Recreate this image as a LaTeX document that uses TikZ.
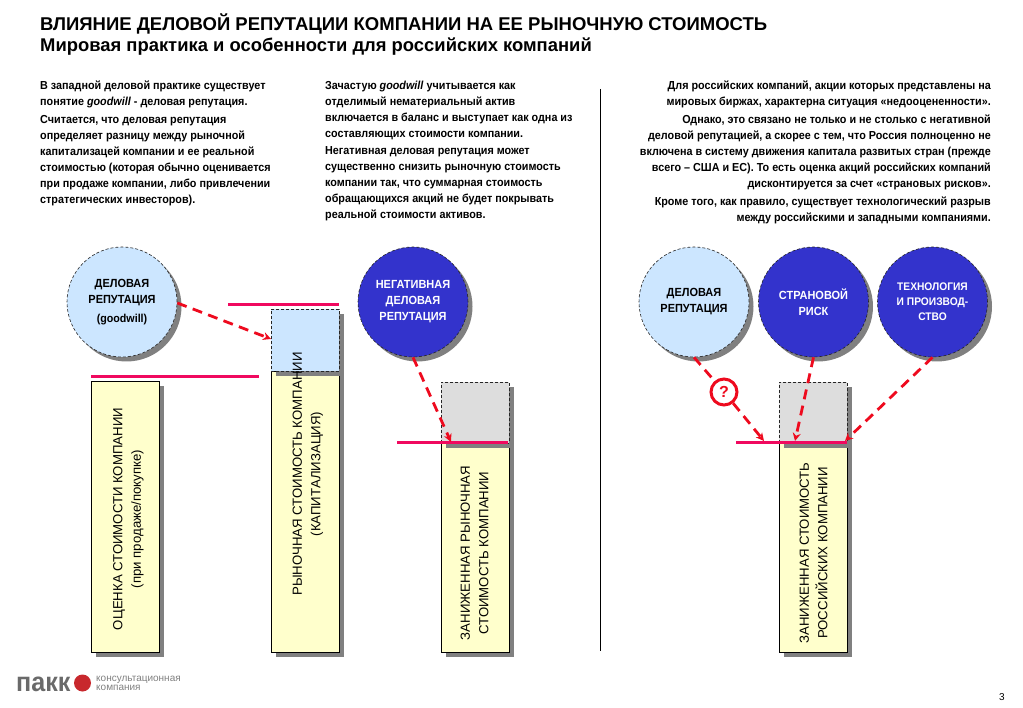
\documentclass[tikz,border=0pt]{standalone}
\usepackage{fontspec}
\setmainfont{Liberation Sans}
\newfontfamily\narrowfont[FakeStretch=0.93]{Liberation Sans}
\usepackage{xcolor}
\usetikzlibrary{arrows.meta, positioning, shadows}
\definecolor{paleblue}{HTML}{CCE6FF}
\definecolor{deepblue}{HTML}{3333CC}
\definecolor{paleyellow}{HTML}{FFFFCC}
\definecolor{palegray}{HTML}{DDDDDD}
\definecolor{barpink}{HTML}{F0095F}
\definecolor{logogray}{HTML}{6A6A6A}
\definecolor{logored}{HTML}{C8282D}
\definecolor{arrowred}{HTML}{EE0A1E}
\tikzset{
  shade3/.style={drop shadow={shadow xshift=4.5pt, shadow yshift=-4.5pt, fill=gray, opacity=1}},
  para/.style={inner sep=0pt, font=\narrowfont\fontsize{11.6}{16}\selectfont\bfseries},
  ball/.style={circle, draw=black!85, densely dashed, line width=0.6pt, minimum size=110pt, inner sep=0pt, shade3, align=center, font=\narrowfont\fontsize{11.8}{16}\selectfont\bfseries, execute at begin node=\rule{0pt}{12pt}},
  barbox/.style={rectangle, draw=black, line width=0.7pt, fill=paleyellow, minimum width=68pt, inner sep=0pt, anchor=north west, shade3},
  topbox/.style={rectangle, draw=black!85, densely dashed, line width=0.6pt, minimum width=68pt, inner sep=0pt, anchor=north west, shade3},
  bartext/.style={rotate=90, align=center, inner sep=0pt, font=\fontsize{13.2}{18.5}\selectfont},
  level/.style={draw=barpink, line width=3pt},
  redarrow/.style={draw=arrowred, line width=2.8pt, dash pattern=on 10pt off 6.5pt, -{Stealth[length=8pt,width=8pt]}},
  redline/.style={draw=arrowred, line width=2.8pt, dash pattern=on 10pt off 6.5pt}
}
\begin{document}
\begin{tikzpicture}[x=1pt, y=-1pt]
  \useasboundingbox (0,0) rectangle (1023,708);

  % heading
  \node[anchor=west, inner sep=0pt, font=\fontsize{18.5}{20}\selectfont\bfseries] (title) at (40,24) {ВЛИЯНИЕ ДЕЛОВОЙ РЕПУТАЦИИ КОМПАНИИ НА ЕЕ РЫНОЧНУЮ СТОИМОСТЬ};
  \node[anchor=west, inner sep=0pt, font=\fontsize{18.4}{20}\selectfont\bfseries] (subtitle) at (40,47) {Мировая практика и особенности для российских компаний};

  % three text columns
  \node[para, anchor=north west, align=left] (leftcol) at (40,81) {В западной деловой практике существует\\понятие \textit{goodwill} - деловая репутация.\\[2pt]Считается, что деловая репутация\\определяет разницу между рыночной\\капитализацей компании и ее реальной\\стоимостью (которая обычно оценивается\\при продаже компании, либо привлечении\\стратегических инвесторов).};
  \node[para, anchor=north west, align=left] (midcol) at (325,81) {Зачастую \textit{goodwill} учитывается как\\отделимый нематериальный актив\\включается в баланс и выступает как одна из\\составляющих стоимости компании.\\[1pt]Негативная деловая репутация может\\существенно снизить рыночную стоимость\\компании так, что суммарная стоимость\\обращающихся акций не будет покрывать\\реальной стоимости активов.};
  \node[para, anchor=north east, align=right] (rightcol) at (991,81) {Для российских компаний, акции которых представлены на\\мировых биржах, характерна ситуация «недооцененности».\\[2pt]Однако, это связано не только и не столько с негативной\\деловой репутацией, а скорее с тем, что Россия полноценно не\\включена в систему движения капитала развитых стран (прежде\\всего – США и ЕС). То есть оценка акций российских компаний\\дисконтируется за счет «страновых рисков».\\[2pt]Кроме того, как правило, существует технологический разрыв\\между российскими и западными компаниями.};

  \coordinate (sepa) at (600,89);
  \coordinate (sepb) at (600,651);
  \draw[line width=0.7pt] (sepa) -- (sepb);

  % circles
  \node[ball, fill=paleblue] (goodwill) at (122,302) {ДЕЛОВАЯ\\РЕПУТАЦИЯ\\[3pt]{\fontsize{11.5}{14}\selectfont (goodwill)}};
  \node[ball, fill=deepblue, text=white] (negative) at (413,302) {НЕГАТИВНАЯ\\ДЕЛОВАЯ\\РЕПУТАЦИЯ};
  \node[ball, fill=paleblue] (repute) at (694,302) {ДЕЛОВАЯ\\РЕПУТАЦИЯ};
  \node[ball, fill=deepblue, text=white] (country) at (813.5,302) {СТРАНОВОЙ\\РИСК};
  \node[ball, fill=deepblue, text=white, font=\narrowfont\fontsize{11}{15}\selectfont\bfseries] (tech) at (932.5,302) {ТЕХНОЛОГИЯ\\И ПРОИЗВОД-\\СТВО};

  % bars
  \node[barbox, minimum height=271pt] (valuebar) at (91,381) {};
  \node[barbox, minimum height=281pt] (capbar) at (271,371) {};
  \node[topbox, fill=paleblue, minimum height=62pt] (captop) at (271,309) {};
  \node[barbox, minimum height=209pt] (lowbar) at (441,443) {};
  \node[topbox, fill=palegray, minimum height=61pt] (lowtop) at (441,382) {};
  \node[barbox, minimum height=209pt] (rubar) at (779,443) {};
  \node[topbox, fill=palegray, minimum height=61pt] (rutop) at (779,382) {};

  \node[bartext] (valuetext) at (128.5,519) {ОЦЕНКА СТОИМОСТИ КОМПАНИИ\\(при продаже/покупке)};
  \node[bartext] (captext) at (308,474) {РЫНОЧНАЯ СТОИМОСТЬ КОМПАНИИ\\(КАПИТАЛИЗАЦИЯ)};
  \node[bartext] (lowtext) at (474.5,553) {ЗАНИЖЕННАЯ РЫНОЧНАЯ\\СТОИМОСТЬ КОМПАНИИ};
  \node[bartext] (rutext) at (813.5,553) {ЗАНИЖЕННАЯ СТОИМОСТЬ\\РОССИЙСКИХ КОМПАНИИ};

  % pink levels
  \coordinate (valuea) at (91,377);
  \coordinate (valueb) at (259,377);
  \coordinate (capa) at (228,305);
  \coordinate (capb) at (339,305);
  \coordinate (lowa) at (397,443);
  \coordinate (lowb) at (508,443);
  \coordinate (rua) at (736,443);
  \coordinate (rub) at (847,443);
  \draw[level] (valuea) -- (valueb);
  \draw[level] (capa) -- (capb);
  \draw[level] (lowa) -- (lowb);
  \draw[level] (rua) -- (rub);

  % arrows
  \coordinate (lowhit) at (451,442);
  \coordinate (ruhita) at (764,441);
  \coordinate (ruhitb) at (795,441);
  \coordinate (ruhitc) at (845,441);
  \coordinate (capleft) at (271,339);
  \node[circle, draw=arrowred, line width=3pt, fill=white, minimum size=26pt, inner sep=0pt, text=arrowred, font=\fontsize{16}{16}\selectfont\bfseries] (query) at (724,392) {?};
  \draw[redarrow] (goodwill.-1) -- (capleft);
  \draw[redarrow] (negative.south) -- (lowhit);
  \draw[redline] (repute.south) -- (query);
  \draw[redarrow] (query) -- (ruhita);
  \draw[redarrow] (country.south) -- (ruhitb);
  \draw[redarrow] (tech.south) -- (ruhitc);

  % logo
  \node[anchor=base west, inner sep=0pt, text=logogray, font=\narrowfont\fontsize{27}{27}\selectfont\bfseries] (logoname) at (16,691) {пакк};
  \node[circle, fill=logored, minimum size=17pt, inner sep=0pt] (logoblob) at (82.5,683) {};
  \node[anchor=west, align=left, inner sep=0pt, text=logogray!85, font=\fontsize{10}{9.5}\selectfont] (logotext) at (96,683.5) {консультационная\\компания};

  \node[inner sep=0pt, font=\fontsize{10}{12}\selectfont] (pagenum) at (1002,697) {3};
\end{tikzpicture}
\end{document}
